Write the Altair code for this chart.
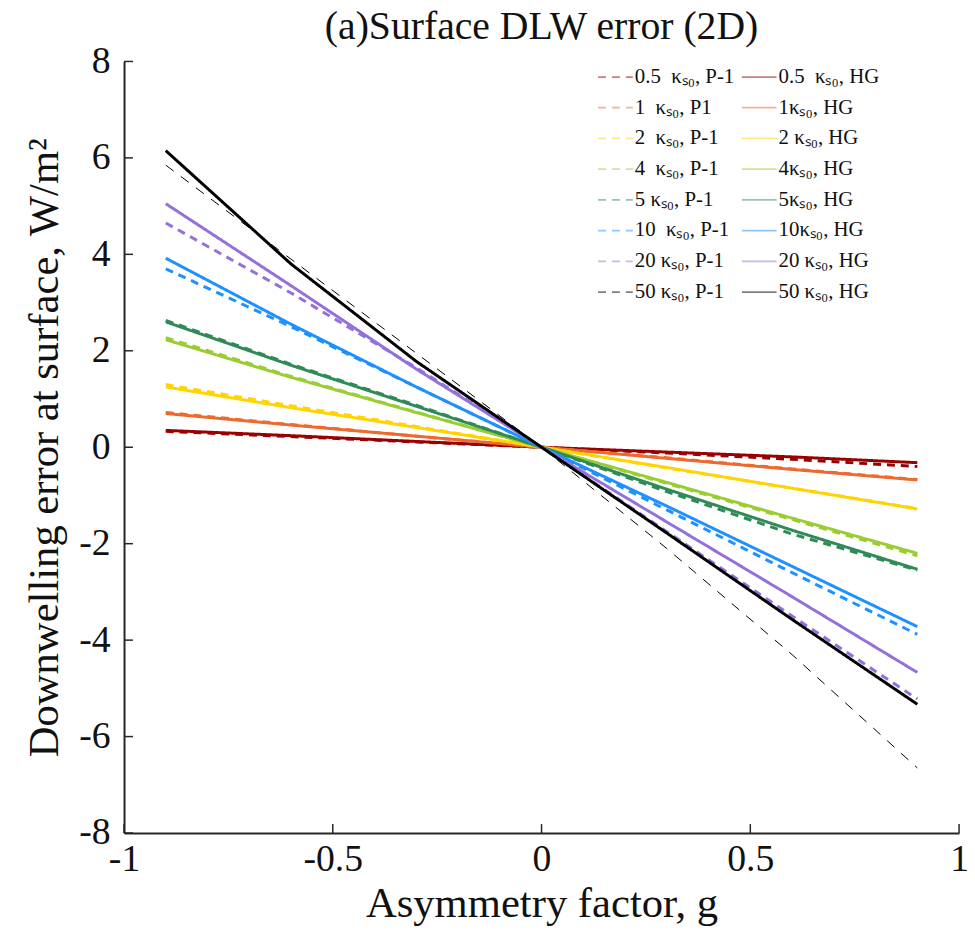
import altair as alt
import pandas as pd

# asymmetry factor samples
g = [-0.9, -0.6, -0.3, 0.0, 0.3, 0.6, 0.9]

# series values (W/m^2)
k05_p1 = [0.33, 0.22, 0.11, 0.0, -0.12, -0.25, -0.40]
k05_hg = [0.35, 0.24, 0.12, 0.0, -0.10, -0.20, -0.32]
k1_p1 = [0.72, 0.47, 0.23, 0.0, -0.22, -0.45, -0.67]
k1_hg = [0.70, 0.46, 0.23, 0.0, -0.23, -0.46, -0.68]
k2_p1 = [1.30, 0.86, 0.43, 0.0, -0.43, -0.85, -1.27]
k2_hg = [1.25, 0.82, 0.41, 0.0, -0.42, -0.85, -1.28]
k4_p1 = [2.27, 1.47, 0.73, 0.0, -0.75, -1.50, -2.25]
k4_hg = [2.23, 1.45, 0.72, 0.0, -0.73, -1.47, -2.20]
k5_p1 = [2.63, 1.72, 0.87, 0.0, -0.92, -1.80, -2.55]
k5_hg = [2.60, 1.70, 0.85, 0.0, -0.87, -1.72, -2.53]
k10_p1 = [3.70, 2.50, 1.25, 0.0, -1.30, -2.60, -3.88]
k10_hg = [3.92, 2.55, 1.25, 0.0, -1.22, -2.47, -3.72]
k20_p1 = [4.65, 3.20, 1.65, 0.0, -1.75, -3.50, -5.22]
k20_hg = [5.05, 3.35, 1.62, 0.0, -1.55, -3.10, -4.67]
k50_p1 = [5.85, 3.90, 1.95, 0.0, -2.10, -4.30, -6.65]
k50_hg = [6.15, 3.80, 1.78, 0.0, -1.78, -3.57, -5.33]

NB = "\u00a0"  # keeps the double spaces of the original legend
labels_p1 = ["0.5" + NB + " κₛ₀, P-1", "1" + NB + " κₛ₀, P1", "2" + NB + " κₛ₀, P-1",
             "4" + NB + " κₛ₀, P-1", "5 κₛ₀, P-1", "10" + NB + " κₛ₀, P-1",
             "20 κₛ₀, P-1", "50 κₛ₀, P-1"]
labels_hg = ["0.5" + NB + " κₛ₀, HG", "1κₛ₀, HG", "2 κₛ₀, HG", "4κₛ₀, HG",
             "5κₛ₀, HG", "10κₛ₀, HG", "20 κₛ₀, HG", "50 κₛ₀, HG"]
series_p1 = [k05_p1, k1_p1, k2_p1, k4_p1, k5_p1, k10_p1, k20_p1, k50_p1]
series_hg = [k05_hg, k1_hg, k2_hg, k4_hg, k5_hg, k10_hg, k20_hg, k50_hg]
base_colors = ["#990000", "#EC6A2E", "#FFD400", "#9ACD32",
               "#2E8B57", "#1E90FF", "#9370DB", "#000000"]

x_ticks = [-1, -0.5, 0, 0.5, 1]
y_ticks = [-8, -6, -4, -2, 0, 2, 4, 6, 8]

# legend is filled column by column: P-1 entries left, HG entries right
domain = labels_p1 + labels_hg
colors = base_colors + base_colors
dashes = [[8, 6]] * 8 + [[1, 0]] * 8

rows = []
for i in range(8):
    for lab, vals in ((labels_p1[i], series_p1[i]), (labels_hg[i], series_hg[i])):
        for gi, v in zip(g, vals):
            rows.append({"g": gi, "err": v, "series": lab})
df = pd.DataFrame(rows)
thin_label = labels_p1[7]
df_main = df[df["series"] != thin_label]
df_thin = df[df["series"] == thin_label]

FONT = "Liberation Serif"
W, H = 842, 778

xscale = alt.Scale(domain=[-1, 1], nice=False, zero=False)
yscale = alt.Scale(domain=[-8, 8], nice=False, zero=False)

xaxis = alt.Axis(values=x_ticks, ticks=False, grid=False, title="Asymmetry factor, g",
                 labelFontSize=38, titleFontSize=43, labelPadding=8, titlePadding=4,
                 labelFont=FONT, titleFont=FONT, labelColor="#111", titleColor="#111",
                 titleFontWeight="normal", domainColor="#262626", domainWidth=2,
                 labelFlush=False, labelExpr="'' + datum.value")
yaxis = alt.Axis(values=y_ticks, ticks=False, grid=False,
                 title="Downwelling error at surface, W/m²",
                 labelFontSize=38, titleFontSize=43, labelPadding=14, titlePadding=12,
                 labelFont=FONT, titleFont=FONT, labelColor="#111", titleColor="#111",
                 titleFontWeight="normal", domainColor="#262626", domainWidth=2,
                 labelFlush=False, labelExpr="'' + datum.value")

color_enc = alt.Color("series:N", scale=alt.Scale(domain=domain, range=colors),
                      legend=alt.Legend(title=None, orient="none", legendX=477, legendY=-3,
                                        columns=2, columnPadding=2, rowPadding=2,
                                        symbolType="stroke", symbolStrokeWidth=1.8,
                                        symbolSize=1225, symbolOpacity=0.5,
                                        labelFont=FONT, labelFontSize=21,
                                        labelColor="#111", labelOffset=1))
dash_enc = alt.StrokeDash("series:N", scale=alt.Scale(domain=domain, range=dashes),
                          legend=None)

main = alt.Chart(df_main).mark_line(strokeWidth=3).encode(
    x=alt.X("g:Q", scale=xscale, axis=xaxis),
    y=alt.Y("err:Q", scale=yscale, axis=yaxis),
    color=color_enc,
    strokeDash=dash_enc,
    order=alt.Order("g:Q"),
)

thin = alt.Chart(df_thin).mark_line(strokeWidth=1, strokeDash=[10, 9]).encode(
    x=alt.X("g:Q", scale=xscale),
    y=alt.Y("err:Q", scale=yscale),
    color=alt.Color("series:N", scale=alt.Scale(domain=domain, range=colors)),
)

xt = alt.Chart(pd.DataFrame({"t": x_ticks})).mark_rule(color="#262626", strokeWidth=1.5).encode(
    x=alt.X("t:Q", scale=xscale), y=alt.value(H), y2=alt.value(H - 9))
yt = alt.Chart(pd.DataFrame({"t": y_ticks})).mark_rule(color="#262626", strokeWidth=1.5).encode(
    y=alt.Y("t:Q", scale=yscale), x=alt.value(0), x2=alt.value(9))

chart = alt.layer(main, thin, xt, yt).properties(
    width=W, height=H,
    title=alt.Title("(a)Surface DLW error (2D)", font=FONT, fontSize=40,
                    fontWeight="normal", color="#111", anchor="middle", offset=-4),
    autosize=alt.AutoSizeParams(type="none"),
    padding={"left": 117, "top": 50, "right": 8, "bottom": 108},
).configure_view(stroke=None).configure_legend(labelLimit=300)

chart.save("out.html", embed_options={"renderer": "svg", "actions": False})
